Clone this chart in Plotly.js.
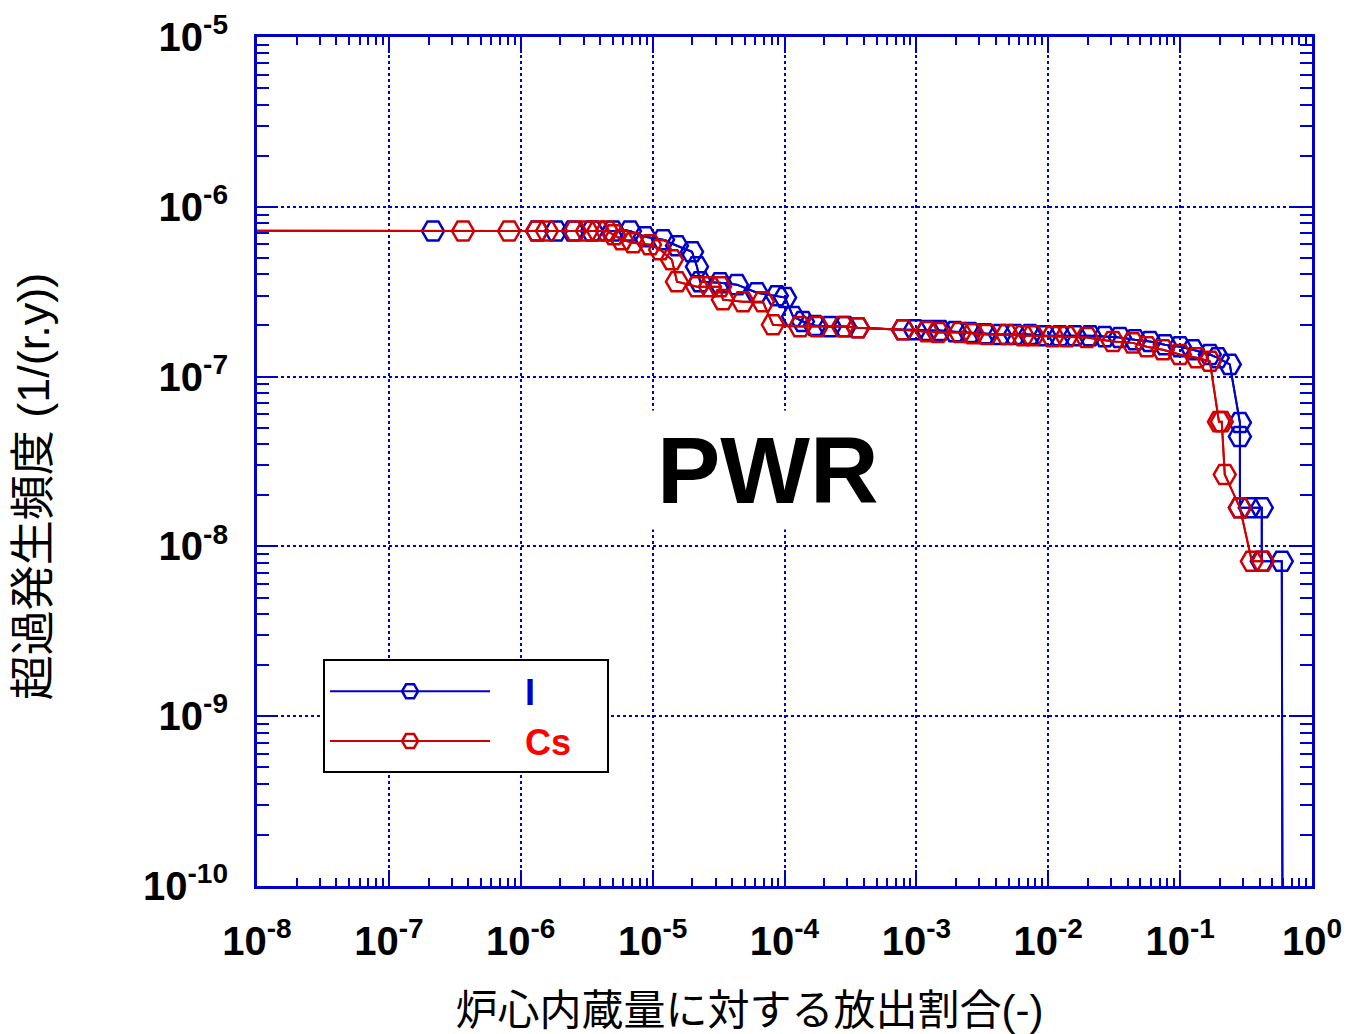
<!DOCTYPE html>
<html>
<head>
<meta charset="utf-8">
<script src="https://cdn.plot.ly/plotly-3.0.1.min.js"></script>
<style>html,body{margin:0;padding:0;background:#fff;}#chart{width:1350px;height:1034px;}</style>
</head>
<body>
<div id="chart"></div>
<script>
// ---- data ----
const seriesNames = ["I", "Cs"];

const iX = [1e-8, 2.16e-7, 1.33e-6, 1.85e-6, 2.49e-6, 3.47e-6, 5.0e-6, 6.73e-6, 8.75e-6, 1.20e-5, 1.53e-5, 1.99e-5, 2.17e-5, 2.29e-5, 3.24e-5, 4.36e-5, 6.18e-5, 8.75e-5, 1.01e-4, 1.16e-4, 1.38e-4, 1.70e-4, 2.21e-4, 2.87e-4, 3.61e-4, 7.91e-4, 9.75e-4, 1.22e-3, 1.51e-3, 1.96e-3, 2.55e-3, 3.31e-3, 4.30e-3, 5.59e-3, 7.26e-3, 9.42e-3, 1.22e-2, 1.59e-2, 2.07e-2, 2.68e-2, 3.49e-2, 4.54e-2, 5.89e-2, 7.66e-2, 9.95e-2, 0.125, 0.168, 0.193, 0.238, 0.284, 0.284, 0.284, 0.337, 0.416, 0.416, 0.590, 0.600];
const iY = [7.23e-7, 7.2e-7, 7.2e-7, 7.2e-7, 7.2e-7, 7.2e-7, 7.2e-7, 7.2e-7, 6.67e-7, 6.40e-7, 5.90e-7, 5.43e-7, 4.44e-7, 3.62e-7, 3.57e-7, 3.48e-7, 3.12e-7, 2.99e-7, 2.92e-7, 2.26e-7, 2.11e-7, 2.00e-7, 1.97e-7, 1.97e-7, 1.94e-7, 1.89e-7, 1.89e-7, 1.87e-7, 1.87e-7, 1.84e-7, 1.82e-7, 1.79e-7, 1.77e-7, 1.77e-7, 1.77e-7, 1.74e-7, 1.74e-7, 1.74e-7, 1.74e-7, 1.72e-7, 1.70e-7, 1.65e-7, 1.61e-7, 1.54e-7, 1.50e-7, 1.44e-7, 1.35e-7, 1.29e-7, 1.18e-7, 5.36e-8, 4.44e-8, 1.69e-8, 1.69e-8, 1.69e-8, 8.17e-9, 8.17e-9, 1e-11];

const csX = [1e-8, 3.65e-7, 8.15e-7, 1.33e-6, 1.58e-6, 2.58e-6, 3.18e-6, 3.85e-6, 4.51e-6, 5.09e-6, 5.85e-6, 7.10e-6, 9.55e-6, 1.14e-5, 1.40e-5, 1.53e-5, 2.17e-5, 2.72e-5, 3.24e-5, 3.41e-5, 4.84e-5, 6.86e-5, 8.17e-5, 1.31e-4, 1.76e-4, 2.77e-4, 3.61e-4, 7.91e-4, 1.20e-3, 1.46e-3, 2.14e-3, 2.68e-3, 3.43e-3, 4.85e-3, 6.43e-3, 7.64e-3, 1.08e-2, 1.38e-2, 1.96e-2, 3.09e-2, 4.37e-2, 5.60e-2, 7.40e-2, 9.95e-2, 0.134, 0.168, 0.197, 0.207, 0.218, 0.284, 0.350, 0.424];
const csY = [7.23e-7, 7.2e-7, 7.2e-7, 7.2e-7, 7.2e-7, 7.2e-7, 7.2e-7, 7.2e-7, 7.2e-7, 6.84e-7, 6.40e-7, 6.14e-7, 5.98e-7, 5.59e-7, 4.88e-7, 3.62e-7, 3.38e-7, 3.38e-7, 3.38e-7, 2.84e-7, 2.76e-7, 2.76e-7, 2.02e-7, 1.97e-7, 1.97e-7, 1.97e-7, 1.94e-7, 1.89e-7, 1.84e-7, 1.82e-7, 1.82e-7, 1.79e-7, 1.77e-7, 1.77e-7, 1.74e-7, 1.74e-7, 1.72e-7, 1.72e-7, 1.70e-7, 1.61e-7, 1.58e-7, 1.50e-7, 1.44e-7, 1.35e-7, 1.29e-7, 1.23e-7, 5.43e-8, 5.43e-8, 2.65e-8, 1.69e-8, 8.17e-9, 8.17e-9];

const xTickVals = [1e-8, 1e-7, 1e-6, 1e-5, 1e-4, 1e-3, 1e-2, 1e-1, 1e0];
const xTickText = ["10<sup>-8</sup>", "10<sup>-7</sup>", "10<sup>-6</sup>", "10<sup>-5</sup>", "10<sup>-4</sup>", "10<sup>-3</sup>", "10<sup>-2</sup>", "10<sup>-1</sup>", "10<sup>0</sup>"];
const yTickVals = [1e-10, 1e-9, 1e-8, 1e-7, 1e-6, 1e-5];
const yTickText = ["10<sup>-10</sup>", "10<sup>-9</sup>", "10<sup>-8</sup>", "10<sup>-7</sup>", "10<sup>-6</sup>", "10<sup>-5</sup>"];

const xTitle = "炉心内蔵量に対する放出割合(-)";
const yTitle = "超過発生頻度 (1/(r.y))";
const plotLabel = "PWR";

// ---- styling ----
const BLUE = "#0000cc";
const RED = "#d00000";
const FONT = "Liberation Sans, Arial, Noto Sans CJK JP, sans-serif";
const NB = "&nbsp;";

function minorVals(lo, hi) {
  const v = [];
  for (let e = lo; e < hi; e++) for (let m = 2; m <= 9; m++) v.push(m * Math.pow(10, e));
  return v;
}

function makeTraces(x, y, name, color, legendColor) {
  return [
    { x: x, y: y, type: "scatter", mode: "lines", showlegend: false, hoverinfo: "skip",
      line: { color: color, width: 2 } },
    { x: x.slice(1), y: y.slice(1), type: "scatter", mode: "lines+markers",
      name: NB.repeat(3) + '<span style="color:' + legendColor + '">' + name + '</span>' + NB.repeat(name.length > 1 ? 3 : 6),
      line: { color: color, width: 2 },
      marker: { symbol: "hexagon2-open", size: 22, color: color, line: { color: color, width: 2.5 } } }
  ];
}

const data = [].concat(
  makeTraces(iX, iY, seriesNames[0], BLUE, BLUE),
  makeTraces(csX, csY, seriesNames[1], RED, "#ff0000")
);

const tickFont = { family: FONT, size: 40, color: "#000", weight: "bold" };

const axisCommon = {
  type: "log",
  showline: true, linecolor: BLUE, linewidth: 3, mirror: "ticks",
  ticks: "inside", tickcolor: BLUE, tickwidth: 2,
  showgrid: true, gridcolor: BLUE, griddash: "dot", gridwidth: 2,
  zeroline: false, tickmode: "array", tickfont: tickFont
};

const layout = {
  width: 1350, height: 1034,
  margin: { l: 257, r: 38, t: 37, b: 148 },
  paper_bgcolor: "#fff", plot_bgcolor: "#fff",
  showlegend: true,
  xaxis: Object.assign({}, axisCommon, {
    range: [-8, 0], tickvals: xTickVals, ticktext: xTickText, ticklen: 16,
    ticklabelstandoff: 18,
    minor: { tickmode: "array", tickvals: minorVals(-8, 0), ticks: "inside", ticklen: 8, tickwidth: 2, tickcolor: BLUE, showgrid: false },
    title: { text: xTitle + NB.repeat(6), font: { family: FONT, size: 42, color: "#000" }, standoff: 34 }
  }),
  yaxis: Object.assign({}, axisCommon, {
    range: [-10, -5], tickvals: yTickVals, ticktext: yTickText, ticklen: 20,
    ticklabelstandoff: 18,
    minor: { tickmode: "array", tickvals: minorVals(-10, -5), ticks: "inside", ticklen: 12, tickwidth: 2, tickcolor: BLUE, showgrid: false },
    title: { text: yTitle + NB.repeat(4), font: { family: FONT, size: 45, color: "#000" }, standoff: 80 }
  }),
  legend: {
    x: 0.0626, y: 0.267, xanchor: "left", yanchor: "top",
    bgcolor: "#fff", bordercolor: "#000", borderwidth: 2,
    font: { family: FONT, size: 36, color: "#000", weight: "bold" },
    itemwidth: 160, tracegroupgap: 0
  },
  annotations: [{
    text: plotLabel, xref: "paper", yref: "paper", x: 0.4844, y: 0.49,
    xanchor: "center", yanchor: "middle", showarrow: false,
    bgcolor: "#fff", borderpad: 6,
    font: { family: FONT, size: 95, color: "#000", weight: "bold" }
  }]
};

Plotly.newPlot("chart", data, layout, { staticPlot: true, displayModeBar: false });
</script>
</body>
</html>
